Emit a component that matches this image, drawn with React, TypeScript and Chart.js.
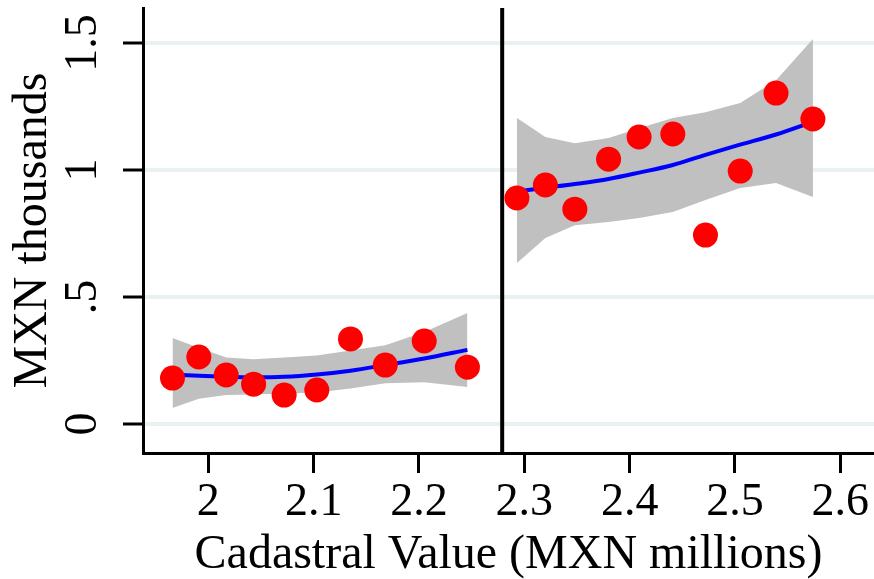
import React, { useEffect, useRef } from "react";
import { Chart, registerables } from "chart.js";

Chart.register(...registerables);

// Axis setup
const xTicks = [2.0, 2.1, 2.2, 2.3, 2.4, 2.5, 2.6];
const xTickLabels = ["2", "2.1", "2.2", "2.3", "2.4", "2.5", "2.6"];
const yTicks = [0, 0.5, 1, 1.5];
const yTickLabels = ["0", ".5", "1", "1.5"];
const xMin = 1.938;
const xMax = 2.632;
const yMin = -0.114;
const yMax = 1.638;
const cutoff = 2.279;

// Left of cutoff: binned means, fitted curve, confidence band
const leftX = [1.966, 1.991, 2.017, 2.043, 2.072, 2.103, 2.135, 2.168, 2.205, 2.246];
const leftY = [0.181, 0.264, 0.193, 0.157, 0.114, 0.134, 0.335, 0.232, 0.327, 0.224];
const leftFit = [0.195, 0.19, 0.186, 0.184, 0.186, 0.195, 0.21, 0.232, 0.258, 0.292];
const leftLo = [0.063, 0.1, 0.114, 0.116, 0.12, 0.124, 0.14, 0.161, 0.165, 0.146];
const leftHi = [0.339, 0.3, 0.262, 0.255, 0.262, 0.27, 0.29, 0.31, 0.362, 0.437];

// Right of cutoff
const rightX = [2.293, 2.32, 2.348, 2.38, 2.409, 2.441, 2.472, 2.505, 2.539, 2.574];
const rightY = [0.89, 0.941, 0.846, 1.043, 1.13, 1.142, 0.744, 0.996, 1.303, 1.201];
const rightFit = [0.915, 0.93, 0.945, 0.965, 0.99, 1.02, 1.06, 1.1, 1.14, 1.19];
const rightLo = [0.634, 0.732, 0.783, 0.795, 0.811, 0.835, 0.882, 0.929, 0.949, 0.894];
const rightHi = [1.205, 1.13, 1.106, 1.126, 1.165, 1.205, 1.228, 1.264, 1.354, 1.516];

const FONT = "'Liberation Serif', 'Times New Roman', serif";

const pts = (xs: number[], ys: number[]) => xs.map((x, i) => ({ x, y: ys[i] }));

const labelFor = (ticks: number[], labels: string[], v: number) => {
  const i = ticks.findIndex((t) => Math.abs(t - v) < 1e-6);
  return i >= 0 ? labels[i] : "";
};

const zeroPad = (s: any) => {
  s.paddingTop = 0;
  s.paddingBottom = 0;
  s.paddingLeft = 0;
  s.paddingRight = 0;
};

export default function App() {
  const ref = useRef<HTMLCanvasElement | null>(null);

  useEffect(() => {
    if (!ref.current) return;
    const band = (data: any[], fill: any) => ({
      type: "line" as const,
      data,
      borderWidth: 0,
      borderColor: "rgba(0,0,0,0)",
      backgroundColor: "#c0c0c0",
      pointRadius: 0,
      tension: 0,
      fill,
      order: 4,
    });
    const fitLine = (data: any[]) => ({
      type: "line" as const,
      data,
      borderColor: "#0000ff",
      borderWidth: 4,
      pointRadius: 0,
      cubicInterpolationMode: "monotone" as const,
      fill: false,
      order: 2,
    });
    const dots = (data: any[]) => ({
      type: "line" as const,
      data,
      showLine: false,
      pointRadius: 12.5,
      pointBackgroundColor: "#ff0000",
      pointBorderWidth: 0,
      pointBorderColor: "#ff0000",
      fill: false,
      order: 1,
    });

    const chart = new Chart(ref.current, {
      type: "line",
      data: {
        datasets: [
          band(pts(leftX, leftHi), 1), // 0
          band(pts(leftX, leftLo), false), // 1
          band(pts(rightX, rightHi), 3), // 2
          band(pts(rightX, rightLo), false), // 3
          fitLine(pts(leftX, leftFit)),
          fitLine(pts(rightX, rightFit)),
          {
            type: "line" as const,
            data: [
              { x: cutoff, y: yMin },
              { x: cutoff, y: yMax },
            ],
            borderColor: "#000000",
            borderWidth: 4,
            pointRadius: 0,
            fill: false,
            order: 3,
          },
          dots(pts(leftX, leftY)),
          dots(pts(rightX, rightY)),
        ] as any,
      },
      options: {
        responsive: false,
        animation: false,
        layout: { autoPadding: false, padding: { top: 8, right: 0, left: 0, bottom: 0 } },
        plugins: {
          legend: { display: false },
          tooltip: { enabled: false },
        },
        scales: {
          x: {
            type: "linear",
            min: xMin,
            max: xMax,
            afterBuildTicks: (s: any) => {
              s.ticks = xTicks.map((v) => ({ value: v }));
            },
            afterFit: (s: any) => {
              s.height = 126;
              zeroPad(s);
            },
            ticks: {
              autoSkip: false,
              minRotation: 0,
              maxRotation: 0,
              padding: 2,
              color: "#000",
              font: { family: FONT, size: 46 },
              callback: (v: any) => labelFor(xTicks, xTickLabels, Number(v)),
            },
            grid: {
              drawOnChartArea: false,
              drawTicks: true,
              tickLength: 20,
              tickColor: "#000",
              tickWidth: 3,
            },
            border: { display: true, color: "#000", width: 3 },
            title: {
              display: true,
              text: "Cadastral Value (MXN millions)",
              color: "#000",
              font: { family: FONT, size: 48, lineHeight: 1 },
              padding: { top: 0, bottom: 0 },
            },
          },
          y: {
            type: "linear",
            min: yMin,
            max: yMax,
            afterBuildTicks: (s: any) => {
              s.ticks = yTicks.map((v) => ({ value: v }));
            },
            afterFit: (s: any) => {
              s.width = 143;
              zeroPad(s);
            },
            ticks: {
              autoSkip: false,
              minRotation: 90,
              maxRotation: 90,
              crossAlign: "center",
              padding: 10,
              color: "#000",
              font: { family: FONT, size: 46 },
              callback: (v: any) => labelFor(yTicks, yTickLabels, Number(v)),
            },
            grid: {
              drawOnChartArea: true,
              color: "#eaf1f2",
              lineWidth: 4,
              drawTicks: true,
              tickLength: 20,
              tickColor: "#000",
              tickWidth: 3,
            },
            border: { display: true, color: "#000", width: 3 },
            title: {
              display: true,
              text: "MXN thousands",
              color: "#000",
              font: { family: FONT, size: 48, lineHeight: 1 },
              padding: { top: 9, bottom: 0 },
            },
          },
        },
      },
    });
    return () => chart.destroy();
  }, []);

  return (
    <div style={{ position: "fixed", left: 0, top: 0, width: 874, height: 579, background: "#fff" }}>
      <canvas ref={ref} width={874} height={579} style={{ display: "block" }} />
    </div>
  );
}
